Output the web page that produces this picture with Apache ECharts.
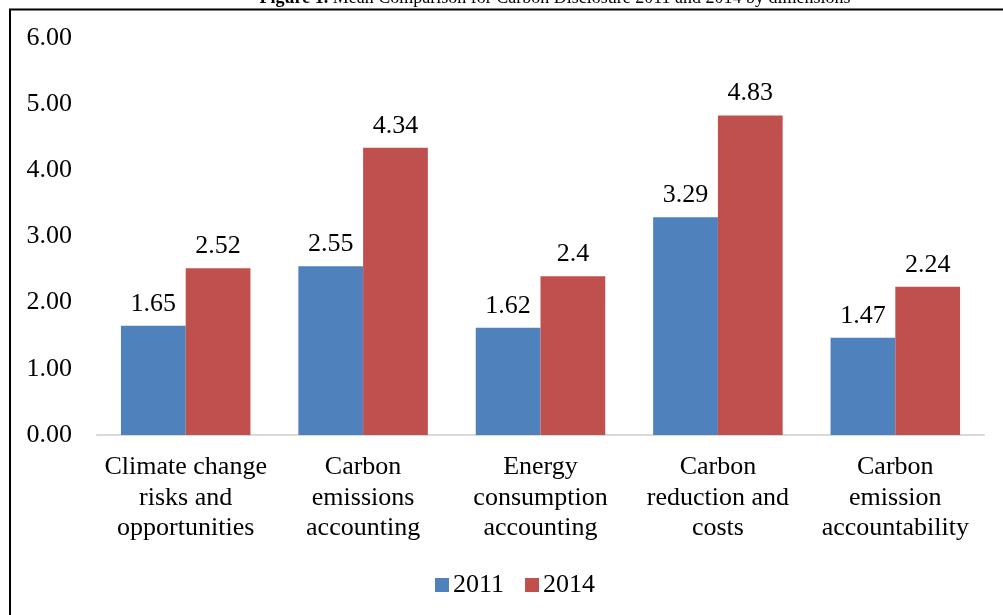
<!DOCTYPE html>
<html>
<head>
<meta charset="utf-8">
<script src="https://cdn.jsdelivr.net/npm/echarts@6/dist/echarts.min.js"></script>
<style>
  html, body { margin: 0; padding: 0; background: #fff; }
  #main { width: 1003px; height: 615px; }
</style>
</head>
<body>
<div id="main"></div>
<script>
var categories = [
  'Climate change\nrisks and\nopportunities',
  'Carbon\nemissions\naccounting',
  'Energy\nconsumption\naccounting',
  'Carbon\nreduction and\ncosts',
  'Carbon\nemission\naccountability'
];
var values2011 = [1.65, 2.55, 1.62, 3.29, 1.47];
var values2014 = [2.52, 4.34, 2.4, 4.83, 2.24];
var seriesNames = ['2011', '2014'];

var serif = '"Liberation Serif", "Times New Roman", serif';

var chart = echarts.init(document.getElementById('main'));

var option = {
  animation: false,
  backgroundColor: '#ffffff',
  textStyle: { fontFamily: serif },
  grid: { left: 97, right: 19, top: 38, bottom: 180 },
  // frame around the figure and the clipped caption
  graphic: [
    {
      type: 'rect',
      shape: { x: 10, y: 9.5, width: 1010, height: 620 },
      style: { fill: 'none', stroke: '#000', lineWidth: 2 }
    },
    {
      type: 'text',
      x: 555, y: -11,
      style: {
        text: '{b|Figure 1.} Mean Comparison for Carbon Disclosure 2011 and 2014 by dimensions',
        font: '18px ' + serif,
        fill: '#000',
        align: 'center',
        rich: { b: { fontWeight: 'bold', fontSize: 18, fontFamily: serif } }
      }
    }
  ],
  legend: {
    data: seriesNames,
    top: 567,
    left: 430,
    itemWidth: 14,
    itemHeight: 14,
    itemGap: 21,
    icon: 'rect',
    textStyle: { fontSize: 26, fontFamily: serif, color: '#000', padding: [0, 0, 0, -1] }
  },
  xAxis: {
    type: 'category',
    data: categories,
    axisLine: { lineStyle: { color: '#d9d9d9', width: 2 } },
    axisTick: { show: false },
    axisLabel: {
      interval: 0,
      fontSize: 26,
      lineHeight: 30.5,
      color: '#000',
      fontFamily: serif,
      margin: 17
    }
  },
  yAxis: {
    type: 'value',
    min: 0,
    max: 6,
    interval: 1,
    splitLine: { show: false },
    axisLine: { show: false },
    axisTick: { show: false },
    axisLabel: {
      fontSize: 26,
      color: '#000',
      fontFamily: serif,
      margin: 25,
      formatter: function (v) { return v.toFixed(2); }
    }
  },
  series: [
    {
      name: seriesNames[0],
      type: 'bar',
      data: values2011,
      barGap: '0%',
      barCategoryGap: '27%',
      itemStyle: { color: '#4f81bd' },
      label: {
        show: true, position: 'top', distance: 9,
        fontSize: 26, color: '#000', fontFamily: serif
      }
    },
    {
      name: seriesNames[1],
      type: 'bar',
      data: values2014,
      barGap: '0%',
      barCategoryGap: '27%',
      itemStyle: { color: '#c0504d' },
      label: {
        show: true, position: 'top', distance: 9,
        fontSize: 26, color: '#000', fontFamily: serif
      }
    }
  ]
};

chart.setOption(option);
</script>
</body>
</html>
